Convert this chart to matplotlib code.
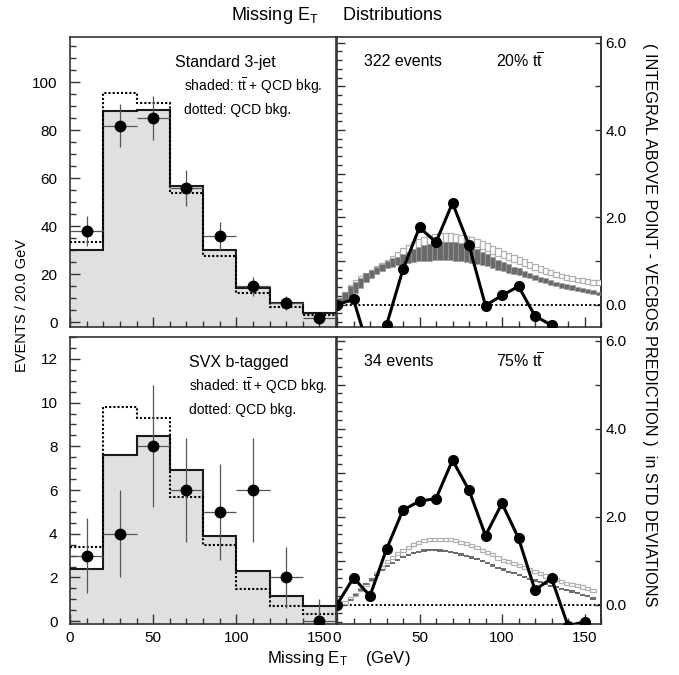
import numpy as np
import matplotlib
matplotlib.use("Agg")
import matplotlib.pyplot as plt
from matplotlib.ticker import MultipleLocator, FixedLocator, FuncFormatter, NullFormatter
from matplotlib.patches import Rectangle

plt.rcParams['font.family'] = ['Liberation Sans', 'DejaVu Sans']
plt.rcParams['mathtext.fontset'] = 'custom'
plt.rcParams['mathtext.rm'] = 'Liberation Sans'
plt.rcParams['mathtext.it'] = 'Liberation Sans:italic'
plt.rcParams['mathtext.bf'] = 'Liberation Sans:bold'

# ---------------- data ----------------
bin_edges = [0, 20, 40, 60, 80, 100, 120, 140, 160]
bin_centers = [10, 30, 50, 70, 90, 110, 130, 150]

std_total = [30.0, 88.0, 88.5, 57.0, 30.0, 14.5, 8.2, 3.7]
std_qcd = [33.4, 95.4, 91.5, 53.7, 27.6, 12.3, 6.5, 2.9]
std_data = [38, 82, 85, 56, 36, 15, 8, 2]
std_err_lo = [6.2, 9.1, 9.2, 7.5, 6.0, 3.9, 2.8, 1.4]
std_err_hi = [6.2, 9.1, 9.2, 7.5, 6.0, 3.9, 2.8, 1.4]

svx_total = [2.4, 7.6, 8.45, 6.9, 3.9, 2.3, 1.17, 0.71]
svx_qcd = [3.4, 9.8, 9.3, 5.7, 3.5, 1.47, 0.71, 0.33]
svx_data = [3, 4, 8, 6, 5, 6, 2, 0]
svx_err_lo = [1.7, 2.0, 2.8, 2.4, 2.2, 2.4, 1.4, 0.0]
svx_err_hi = [1.7, 2.0, 2.8, 2.4, 2.2, 2.4, 1.4, 1.0]

scan_x = [0, 10, 20, 30, 40, 50, 60, 70, 80, 90, 100, 110, 120, 130, 140, 150]
std_sig = [0.0, 0.12, -1.13, -0.47, 0.81, 1.77, 1.43, 2.33, 1.36, -0.02, 0.21,
           0.42, -0.26, -0.47, -0.9, -1.2]
svx_sig = [0.0, 0.61, 0.20, 1.26, 2.15, 2.35, 2.41, 3.28, 2.60, 1.57, 2.30,
           1.51, 0.33, 0.60, -0.48, -0.39]

fine_centers = [1.6, 4.8, 8.0, 11.2, 14.4, 17.6, 20.8, 24.0, 27.2, 30.4,
                33.6, 36.8, 40.0, 43.2, 46.4, 49.6, 52.8, 56.0, 59.2, 62.4,
                65.6, 68.8, 72.0, 75.2, 78.4, 81.6, 84.8, 88.0, 91.2, 94.4,
                97.6, 100.8, 104.0, 107.2, 110.4, 113.6, 116.8, 120.0, 123.2, 126.4,
                129.6, 132.8, 136.0, 139.2, 142.4, 145.6, 148.8, 152.0, 155.2, 158.4]

# top-right: tt+QCD prediction band (dark) and QCD-only band (light boxes)
std_dark_hi = [0.16, 0.30, 0.42, 0.52, 0.62, 0.72, 0.79, 0.86, 0.94, 1.01,
               1.06, 1.10, 1.15, 1.21, 1.27, 1.33, 1.37, 1.40, 1.42, 1.43,
               1.44, 1.44, 1.44, 1.42, 1.40, 1.34, 1.27, 1.21, 1.15, 1.09,
               1.03, 0.98, 0.93, 0.87, 0.83, 0.78, 0.73, 0.68, 0.64, 0.60,
               0.57, 0.53, 0.50, 0.47, 0.44, 0.41, 0.38, 0.35, 0.33, 0.30]
std_dark_lo = [-0.06, 0.06, 0.16, 0.27, 0.38, 0.52, 0.62, 0.70, 0.78, 0.84,
               0.87, 0.90, 0.92, 0.95, 0.97, 0.99, 1.00, 1.01, 1.02, 1.02,
               1.02, 1.02, 1.01, 1.00, 0.98, 0.96, 0.94, 0.91, 0.88, 0.84,
               0.80, 0.77, 0.73, 0.70, 0.67, 0.64, 0.60, 0.57, 0.53, 0.49,
               0.46, 0.42, 0.39, 0.36, 0.34, 0.31, 0.29, 0.26, 0.24, 0.22]
std_light_hi = [0.15, 0.30, 0.45, 0.56, 0.65, 0.72, 0.80, 0.88, 0.96, 1.03,
                1.12, 1.21, 1.29, 1.37, 1.44, 1.50, 1.55, 1.59, 1.62, 1.63,
                1.63, 1.63, 1.62, 1.60, 1.57, 1.54, 1.50, 1.46, 1.41, 1.35,
                1.29, 1.24, 1.19, 1.14, 1.09, 1.04, 0.98, 0.93, 0.88, 0.83,
                0.79, 0.75, 0.71, 0.68, 0.65, 0.62, 0.60, 0.58, 0.57, 0.56]
std_light_lo = [0.00, 0.14, 0.28, 0.40, 0.50, 0.57, 0.64, 0.72, 0.79, 0.86,
                0.94, 1.02, 1.10, 1.18, 1.25, 1.30, 1.35, 1.39, 1.42, 1.43,
                1.43, 1.43, 1.42, 1.40, 1.37, 1.34, 1.31, 1.27, 1.22, 1.17,
                1.12, 1.07, 1.03, 0.98, 0.94, 0.89, 0.84, 0.79, 0.75, 0.71,
                0.67, 0.63, 0.60, 0.57, 0.54, 0.51, 0.49, 0.47, 0.46, 0.45]

# bottom-right: prediction curves (None = bin not drawn)
svx_light = [None, 0.05, 0.14, 0.24, 0.34, 0.46, 0.58, 0.71, 0.85, 0.98,
             1.07, 1.16, 1.24, 1.30, 1.36, 1.41, 1.45, 1.47, 1.49, 1.49,
             1.48, 1.47, 1.45, 1.42, 1.38, 1.34, 1.29, 1.24, 1.19, 1.13,
             1.06, 1.01, 0.97, 0.93, 0.89, 0.84, 0.79, 0.75, 0.70, 0.65,
             0.60, 0.57, 0.53, 0.49, 0.46, 0.43, 0.40, 0.37, 0.33, None]
svx_dark = [None, None, 0.10, 0.22, 0.34, 0.46, 0.57, 0.67, 0.78, 0.87,
            0.95, 1.02, 1.08, 1.13, 1.17, 1.20, 1.23, 1.24, 1.24, 1.23,
            1.22, 1.20, 1.17, 1.14, 1.11, 1.07, 1.03, 0.99, 0.94, 0.89,
            0.84, 0.80, 0.75, 0.71, 0.67, 0.63, 0.59, 0.55, 0.51, 0.47,
            0.43, 0.40, 0.36, 0.33, 0.30, 0.26, 0.22, 0.19, 0.14, None]

# ---------------- figure ----------------
W, H = 679, 675
fig = plt.figure(figsize=(W / 100, H / 100), dpi=100)


def rect(x0, y0, x1, y1):
    return [x0 / W, 1 - y1 / H, (x1 - x0) / W, (y1 - y0) / H]


ax_tl = fig.add_axes(rect(70, 37, 336, 326.5))
ax_bl = fig.add_axes(rect(70, 337, 336, 624))
ax_tr = fig.add_axes(rect(337, 37, 601, 326.5))
ax_br = fig.add_axes(rect(337, 337, 601, 624))

FRAME = '#333333'


def style_common(ax, xlabels):
    for s in ax.spines.values():
        s.set_linewidth(1.2)
        s.set_color(FRAME)
    ax.set_xlim(0, 160)
    ax.xaxis.set_major_locator(FixedLocator([0, 50, 100, 150]))
    ax.xaxis.set_minor_locator(MultipleLocator(10))
    ax.tick_params(axis='x', which='major', direction='in', length=7, width=1,
                   color=FRAME, labelsize=11, pad=5, labelbottom=xlabels, top=False)
    ax.tick_params(axis='x', which='minor', direction='in', length=4, width=1,
                   color=FRAME, top=False)


def hist_panel(ax, total, qcd, data, elo, ehi, ylim, major, minor, xlabels):
    style_common(ax, xlabels)
    ax.set_ylim(*ylim)
    ax.stairs(total, bin_edges, baseline=ylim[0], fill=True, color='#e0e0e0',
              zorder=1)
    ax.stairs(total, bin_edges, baseline=None, color='#1a1a1a', lw=1.5, zorder=3)
    ax.stairs(qcd, bin_edges, baseline=None, color='black', lw=1.5,
              ls=(0, (1, 1)), zorder=4)
    ax.errorbar(bin_centers, data, yerr=[elo, ehi], xerr=10, fmt='o',
                color='black', ms=7.5, ecolor='#555555', elinewidth=0.9,
                capsize=0, zorder=6)
    ax.yaxis.set_major_locator(MultipleLocator(major))
    ax.yaxis.set_minor_locator(MultipleLocator(minor))
    ax.yaxis.set_major_formatter(FuncFormatter(lambda v, p: '%d' % round(v)))
    ax.tick_params(axis='y', which='major', direction='in', length=7, width=1,
                   color=FRAME, labelsize=11, pad=9, right=False)
    ax.tick_params(axis='y', which='minor', direction='in', length=4, width=1,
                   color=FRAME, right=False)


hist_panel(ax_tl, std_total, std_qcd, std_data, std_err_lo, std_err_hi,
           (-1.75, 118.9), 20, 5, False)
hist_panel(ax_bl, svx_total, svx_qcd, svx_data, svx_err_lo, svx_err_hi,
           (-0.13, 13.0), 2, 0.5, True)


def sig_panel(ax, sig, ylim, xlabels):
    style_common(ax, xlabels)
    ax.set_ylim(*ylim)
    ax.axhline(0, color='black', lw=1.4, ls=(0, (1, 1.2)), zorder=2)
    ax.yaxis.set_major_locator(MultipleLocator(1))
    ax.yaxis.set_minor_locator(MultipleLocator(0.2))
    ax.tick_params(axis='y', which='major', direction='in', length=6, width=1,
                   color=FRAME, labelleft=False, right=False)
    ax.tick_params(axis='y', which='minor', direction='in', length=3.5, width=1,
                   color=FRAME, right=False)
    sec = ax.secondary_yaxis('right')
    sec.yaxis.set_major_locator(FixedLocator([0, 1, 2, 3, 4, 5, 6]))
    sec.yaxis.set_minor_locator(FixedLocator([]))
    sec.yaxis.set_major_formatter(
        FuncFormatter(lambda v, p: ('%.1f' % v) if round(v) % 2 == 0 else ''))
    sec.tick_params(axis='y', direction='in', length=4, width=1, color=FRAME,
                    labelsize=11, pad=3)
    sec.spines['right'].set_linewidth(1.2)
    sec.spines['right'].set_color(FRAME)
    ax.plot(scan_x, sig, '-o', color='black', lw=2.2, ms=7, zorder=8)


sig_panel(ax_tr, std_sig, (-0.5, 6.13), False)
sig_panel(ax_br, svx_sig, (-0.44, 6.08), True)

# top-right bands
for xc, lo, hi in zip(fine_centers, std_light_lo, std_light_hi):
    ax_tr.add_patch(Rectangle((xc - 1.6, lo), 3.2, hi - lo, facecolor='white',
                              edgecolor='#b0b0b0', lw=0.9, zorder=3))
for xc, lo, hi in zip(fine_centers, std_dark_lo, std_dark_hi):
    ax_tr.add_patch(Rectangle((xc - 1.6, lo), 3.2, hi - lo, facecolor='#6a6a6a',
                              edgecolor='#9a9a9a', lw=0.4, zorder=4))

# bottom-right curves
for xc, v in zip(fine_centers, svx_light):
    if v is None:
        continue
    ax_br.add_patch(Rectangle((xc - 1.6, v - 0.035), 3.2, 0.07, facecolor='white',
                              edgecolor='#b0b0b0', lw=0.9, zorder=3))
for xc, v in zip(fine_centers, svx_dark):
    if v is None:
        continue
    ax_br.add_patch(Rectangle((xc - 1.6, v - 0.025), 3.2, 0.05, facecolor='#6e6e6e',
                              edgecolor='none', lw=0, zorder=4))


# ---------------- text ----------------
def ftext(px, py, s, **kw):
    fig.text(px / W, 1 - py / H, s, **kw)


tt = r'$\mathrm{t}\overline{\mathrm{t}}$'
ftext(175, 62, 'Standard 3-jet', ha='left', va='center', fontsize=11.5)
ftext(184, 86, 'shaded: ' + tt + ' + QCD bkg.', ha='left', va='center', fontsize=10)
ftext(184, 110, 'dotted: QCD bkg.', ha='left', va='center', fontsize=10)
ftext(189, 362, 'SVX b-tagged', ha='left', va='center', fontsize=11.5)
ftext(189, 386, 'shaded: ' + tt + ' + QCD bkg.', ha='left', va='center', fontsize=10)
ftext(189, 410, 'dotted: QCD bkg.', ha='left', va='center', fontsize=10)

ftext(364, 61, '322 events', ha='left', va='center', fontsize=11.5)
ftext(496, 61, '20% ' + tt, ha='left', va='center', fontsize=11.5)
ftext(364, 361, '34 events', ha='left', va='center', fontsize=11.5)
ftext(496, 361, '75% ' + tt, ha='left', va='center', fontsize=11.5)

ftext(337, 15, r'Missing E$_{\mathrm{T}}$     Distributions', ha='center',
      va='center', fontsize=13)
ftext(339, 659, r'Missing E$_{\mathrm{T}}$    (GeV)', ha='center', va='center',
      fontsize=12)
ftext(22, 305, 'EVENTS / 20.0 GeV', ha='center', va='center', rotation=90,
      fontsize=10.5)
ftext(649, 325, '( INTEGRAL ABOVE POINT - VECBOS PREDICTION )  in STD DEVIATIONS',
      ha='center', va='center', rotation=-90, fontsize=11.7)

fig.savefig('out.png', dpi=100)
